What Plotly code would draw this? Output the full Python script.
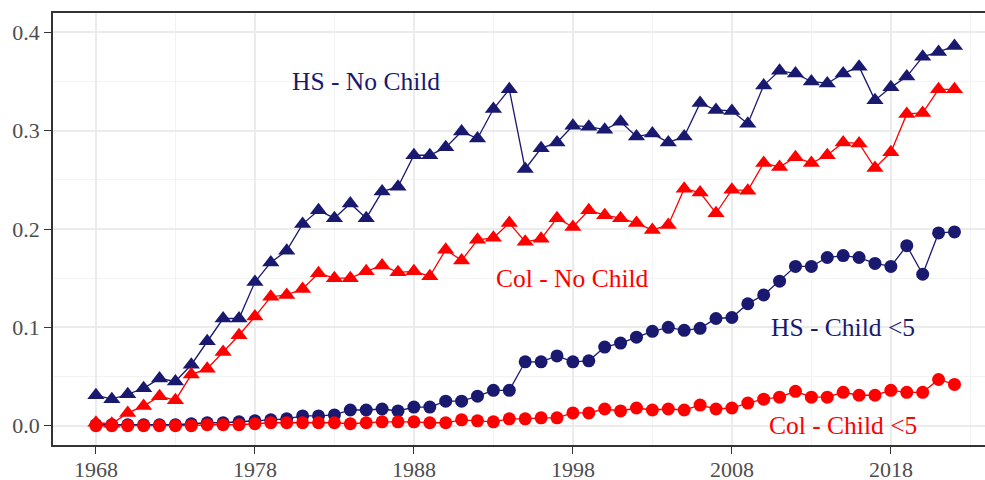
import plotly.graph_objects as go

years = list(range(1968, 2023))

hs_nochild = [0.031, 0.027, 0.032, 0.038, 0.048, 0.045, 0.062, 0.086, 0.109, 0.109,
              0.146, 0.166, 0.178, 0.205, 0.219, 0.211, 0.226, 0.211, 0.238, 0.243,
              0.275, 0.275, 0.283, 0.299, 0.292, 0.322, 0.342, 0.261, 0.282, 0.288,
              0.305, 0.304, 0.301, 0.309, 0.294, 0.297, 0.288, 0.294, 0.328, 0.321,
              0.320, 0.307, 0.346, 0.361, 0.358, 0.350, 0.348, 0.358, 0.365, 0.331,
              0.344, 0.355, 0.375, 0.380, 0.386]

col_nochild = [0.003, 0.002, 0.013, 0.020, 0.030, 0.026, 0.052, 0.058, 0.075, 0.092,
               0.111, 0.131, 0.133, 0.139, 0.155, 0.150, 0.150, 0.157, 0.163, 0.156,
               0.157, 0.152, 0.179, 0.168, 0.189, 0.191, 0.206, 0.187, 0.190, 0.211,
               0.202, 0.219, 0.214, 0.211, 0.206, 0.199, 0.204, 0.241, 0.237, 0.216,
               0.240, 0.239, 0.267, 0.263, 0.273, 0.267, 0.275, 0.288, 0.287, 0.262,
               0.278, 0.317, 0.318, 0.342, 0.342]

hs_child = [0.001, 0.001, 0.001, 0.001, 0.001, 0.001, 0.002, 0.003, 0.003, 0.004,
            0.005, 0.006, 0.007, 0.010, 0.010, 0.011, 0.016, 0.016, 0.017, 0.015,
            0.019, 0.019, 0.025, 0.025, 0.030, 0.036, 0.036, 0.065, 0.065, 0.071,
            0.065, 0.066, 0.080, 0.084, 0.090, 0.096, 0.100, 0.097, 0.099, 0.109,
            0.110, 0.124, 0.133, 0.147, 0.162, 0.162, 0.171, 0.173, 0.171, 0.165,
            0.162, 0.183, 0.154, 0.196, 0.197]

col_child = [0.000, 0.000, 0.000, 0.000, 0.000, 0.000, 0.000, 0.001, 0.001, 0.001,
             0.002, 0.003, 0.003, 0.003, 0.003, 0.003, 0.002, 0.003, 0.004, 0.004,
             0.004, 0.003, 0.003, 0.006, 0.005, 0.004, 0.007, 0.007, 0.008, 0.008,
             0.013, 0.013, 0.017, 0.015, 0.018, 0.016, 0.017, 0.016, 0.021, 0.017,
             0.018, 0.023, 0.027, 0.029, 0.035, 0.029, 0.029, 0.034, 0.031, 0.031,
             0.036, 0.034, 0.034, 0.047, 0.042]

labels = ["HS - No Child", "Col - No Child", "HS - Child &lt;5", "Col - Child &lt;5"]
label_x = [1985, 1998, 2015, 2015]
label_y = [0.35, 0.15, 0.10, 0.0]

x_ticks = [1968, 1978, 1988, 1998, 2008, 2018]
y_ticks = [0.0, 0.1, 0.2, 0.3, 0.4]
y_ticklabels = ["0.0", "0.1", "0.2", "0.3", "0.4"]

NAVY = "#191970"
RED = "#FF0000"
FONT = "Liberation Serif"

series = [
    (hs_nochild, NAVY, "triangle-up", 15),
    (hs_child, NAVY, "circle", 13),
    (col_nochild, RED, "triangle-up", 15),
    (col_child, RED, "circle", 13),
]

fig = go.Figure()
for vals, color, sym, size in series:
    fig.add_trace(go.Scatter(
        x=years, y=vals, mode="lines+markers",
        line=dict(color=color, width=1.3),
        marker=dict(color=color, symbol=sym, size=size, line=dict(width=0)),
        showlegend=False, hoverinfo="skip"))

colors = [NAVY, RED, NAVY, RED]
for t, xx, yy, c in zip(labels, label_x, label_y, colors):
    fig.add_annotation(x=xx, y=yy, text=t, showarrow=False,
                       xanchor="center", yanchor="middle",
                       font=dict(family=FONT, size=25.5, color=c))

fig.update_layout(
    width=985, height=480,
    margin=dict(l=53, r=0, t=13, b=35, autoexpand=False),
    plot_bgcolor="white", paper_bgcolor="white",
    font=dict(family=FONT, size=22, color="#4D4D4D"),
    xaxis=dict(
        range=[1965.3, 2023.92], automargin=False,
        tickmode="array", tickvals=x_ticks, ticktext=[str(v) for v in x_ticks],
        showgrid=True, gridcolor="#EBEBEB", gridwidth=1.5,
        minor=dict(tickmode="array", tickvals=[1973, 1983, 1993, 2003, 2013, 2023],
                   showgrid=True, gridcolor="#F3F3F3", gridwidth=1, ticks=""),
        showline=True, linecolor="#333333", linewidth=1.5, mirror=True,
        ticks="outside", ticklen=7, tickcolor="#333333", tickwidth=1.2,
        ticklabelstandoff=-3,
        zeroline=False,
        tickfont=dict(family=FONT, size=22, color="#4D4D4D"),
    ),
    yaxis=dict(
        range=[-0.0196, 0.4196], automargin=False,
        tickmode="array", tickvals=y_ticks, ticktext=y_ticklabels,
        showgrid=True, gridcolor="#EBEBEB", gridwidth=1.5,
        minor=dict(tickmode="array", tickvals=[0.05, 0.15, 0.25, 0.35],
                   showgrid=True, gridcolor="#F3F3F3", gridwidth=1, ticks=""),
        showline=True, linecolor="#333333", linewidth=1.5,
        ticks="outside", ticklen=7, tickcolor="#333333", tickwidth=1.2,
        zeroline=False,
        tickfont=dict(family=FONT, size=22, color="#4D4D4D"),
    ),
)

fig.write_html("out.html", config={"displayModeBar": False},
               post_script="document.body.style.margin='0';document.body.style.overflow='hidden';")
